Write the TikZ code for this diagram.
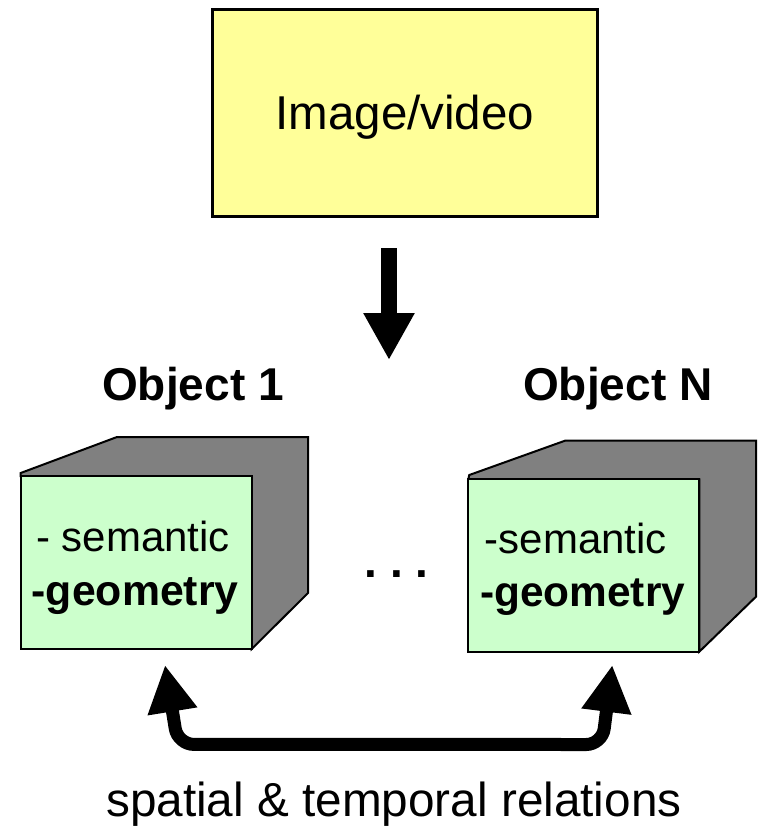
\documentclass[tikz,border=0pt]{standalone}
\usepackage{fontspec}
\setmainfont{Liberation Sans}
\usetikzlibrary{arrows.meta}
\definecolor{boxyellow}{HTML}{FFFF99}
\definecolor{facegreen}{HTML}{CCFFCC}
\definecolor{sidegray}{HTML}{808080}
\tikzset{
  bigtext/.style={font=\fontsize{46}{55}\selectfont, inner sep=0pt},
  cubetext/.style={font=\fontsize{42}{50}\selectfont, inner sep=0pt, anchor=base west},
  facebox/.style={draw=black, line width=2pt, fill=facegreen, minimum width=231pt, inner sep=0pt},
  sidepoly/.style={draw=black, line width=2pt, fill=sidegray, line join=miter},
  fatarrow/.style={line width=15.7pt, -{Triangle[width=48pt,length=47pt]}},
  relarrow/.style={line width=13pt, rounded corners=16pt, {Triangle[width=47pt,length=47pt]}-{Triangle[width=47pt,length=47pt]}}
}
\begin{document}
\begin{tikzpicture}[x=1pt,y=-1pt]
\useasboundingbox (0,0) rectangle (761,836);

% source box
\node[draw=black, line width=2.5pt, fill=boxyellow, minimum width=385pt, minimum height=207.4pt,
      inner sep=0pt, text height=33pt, text depth=0pt, font=\fontsize{47.5}{55}\selectfont]
      (img) at (404.8,113) {Image/video};

% down arrow
\coordinate (arrS) at (389,248);
\coordinate (arrE) at (389,360);
\draw[fatarrow] (arrS) -- (arrE);

% labels
\node[bigtext, anchor=base west, font=\fontsize{46}{55}\selectfont\bfseries] (lab1) at (102,400) {Object 1};
\node[bigtext, anchor=base west, font=\fontsize{46}{55}\selectfont\bfseries] (labN) at (523,400) {Object N};

% cube 1
\draw[sidepoly] (20.7,473) -- (117,437) -- (308,437) -- (308,593) -- (251.7,649) -- (251.7,476) -- (20.7,476) -- cycle;
\node[facebox, minimum height=173pt] (f1) at (136.2,562.5) {};
\node[cubetext] (s1) at (36,551.7) {- semantic};
\node[cubetext, font=\fontsize{42.8}{50}\selectfont\bfseries] (g1) at (31.5,605) {-geometry};

% cube N
\draw[sidepoly] (469.3,475) -- (565,440.7) -- (756,440.7) -- (756,596.7) -- (699.3,651.7) -- (699.3,479.3) -- (468.3,479.3) -- cycle;
\node[facebox, minimum height=172.4pt] (fN) at (583.8,565.5) {};
\node[cubetext] (sN) at (484.7,553.3) {-semantic};
\node[cubetext, font=\fontsize{42.4}{50}\selectfont\bfseries] (gN) at (480,606.7) {-geometry};

% dots
\node[bigtext, anchor=base west, font=\fontsize{46}{55}\selectfont\bfseries\frenchspacing] (dots) at (364.5,577.3) {. . .};

% relations arrow
\coordinate (tipL) at (165,665);
\coordinate (cornL) at (177.8,744.4);
\coordinate (cornR) at (602.2,744.5);
\coordinate (tipR) at (612.3,665);
\draw[relarrow] (tipL) -- (cornL) -- (cornR) -- (tipR);

\node[bigtext, anchor=base west, font=\fontsize{47.7}{56}\selectfont] (rel) at (106,816) {spatial \& temporal relations};
\end{tikzpicture}
\end{document}
